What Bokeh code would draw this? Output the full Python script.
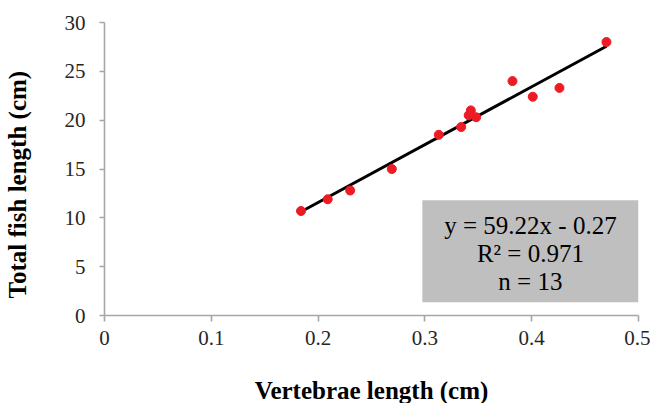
from bokeh.plotting import figure
from bokeh.models import Range1d, BoxAnnotation, Label, FixedTicker
from bokeh.embed import file_html
from bokeh.resources import INLINE

# Data
vertebrae_cm = [0.184, 0.209, 0.230, 0.269, 0.313, 0.334, 0.341, 0.343, 0.348, 0.382, 0.401, 0.426, 0.470]
fish_cm = [10.7, 11.9, 12.8, 15.0, 18.5, 19.3, 20.5, 21.0, 20.3, 24.0, 22.4, 23.3, 28.0]
fit_slope = 59.22
fit_intercept = -0.27
x_ticks = [0, 0.1, 0.2, 0.3, 0.4, 0.5]
y_ticks = [0, 5, 10, 15, 20, 25, 30]
stats_lines = ["y = 59.22x - 0.27", "R\u00b2 = 0.971", "n = 13"]

FONT = "Liberation Serif"

p = figure(frame_width=534, frame_height=293, output_backend="svg", toolbar_location=None,
           x_range=Range1d(0, 0.5), y_range=Range1d(0, 30),
           min_border_left=104, min_border_top=22, min_border_right=12, min_border_bottom=88)
p.outline_line_color = None
p.grid.visible = False
p.background_fill_color = "white"

for ax in (p.xaxis[0], p.yaxis[0]):
    ax.axis_line_color = "#a6a6a6"
    ax.axis_line_width = 1.6
    ax.major_tick_line_color = "#a6a6a6"
    ax.major_tick_line_width = 1.6
    ax.minor_tick_line_color = None
    ax.major_tick_in = 0
    ax.major_label_text_font = FONT
    ax.major_label_text_font_size = "21px"
    ax.major_label_text_color = "#262626"
    ax.axis_label_text_font = FONT
    ax.axis_label_text_font_style = "bold"
    ax.axis_label_text_font_size = "25px"
    ax.axis_label_text_color = "black"

p.xaxis.ticker = FixedTicker(ticks=x_ticks)
p.yaxis.ticker = FixedTicker(ticks=y_ticks)
p.xaxis.major_tick_out = 6
p.yaxis.major_tick_out = 5
p.xaxis.major_label_standoff = 9
p.yaxis.major_label_standoff = 14
p.xaxis.axis_label = "Vertebrae length (cm)"
p.xaxis.axis_label_standoff = 29
p.xaxis.major_label_overrides = {0: "0"}
# trailing no-break spaces nudge the visible title slightly below the frame centre
p.yaxis.axis_label = "Total fish length (cm)" + "\u00a0" * 5
p.yaxis.axis_label_standoff = 31

# Stats box
box = BoxAnnotation(left=0.2976, right=0.5, bottom=1.36, top=11.8,
                    fill_color="#bfbfbf", fill_alpha=1.0, line_color=None, level="underlay")
p.add_layout(box)

# Trend line
xmin, xmax = min(vertebrae_cm), max(vertebrae_cm)
p.line([xmin, xmax], [fit_slope * xmin + fit_intercept, fit_slope * xmax + fit_intercept],
       line_color="black", line_width=3)

# Points
p.scatter(vertebrae_cm, fish_cm, size=9, fill_color="#ed1c24", line_color="#ed1c24")

label_y = [9.2, 6.35, 3.5]
for txt, yy in zip(stats_lines, label_y):
    p.add_layout(Label(x=0.3988, y=yy, text=txt, text_align="center", text_baseline="middle",
                       text_font=FONT, text_font_size="25px", text_color="black"))

open("out.html", "w").write(file_html(p, INLINE))
